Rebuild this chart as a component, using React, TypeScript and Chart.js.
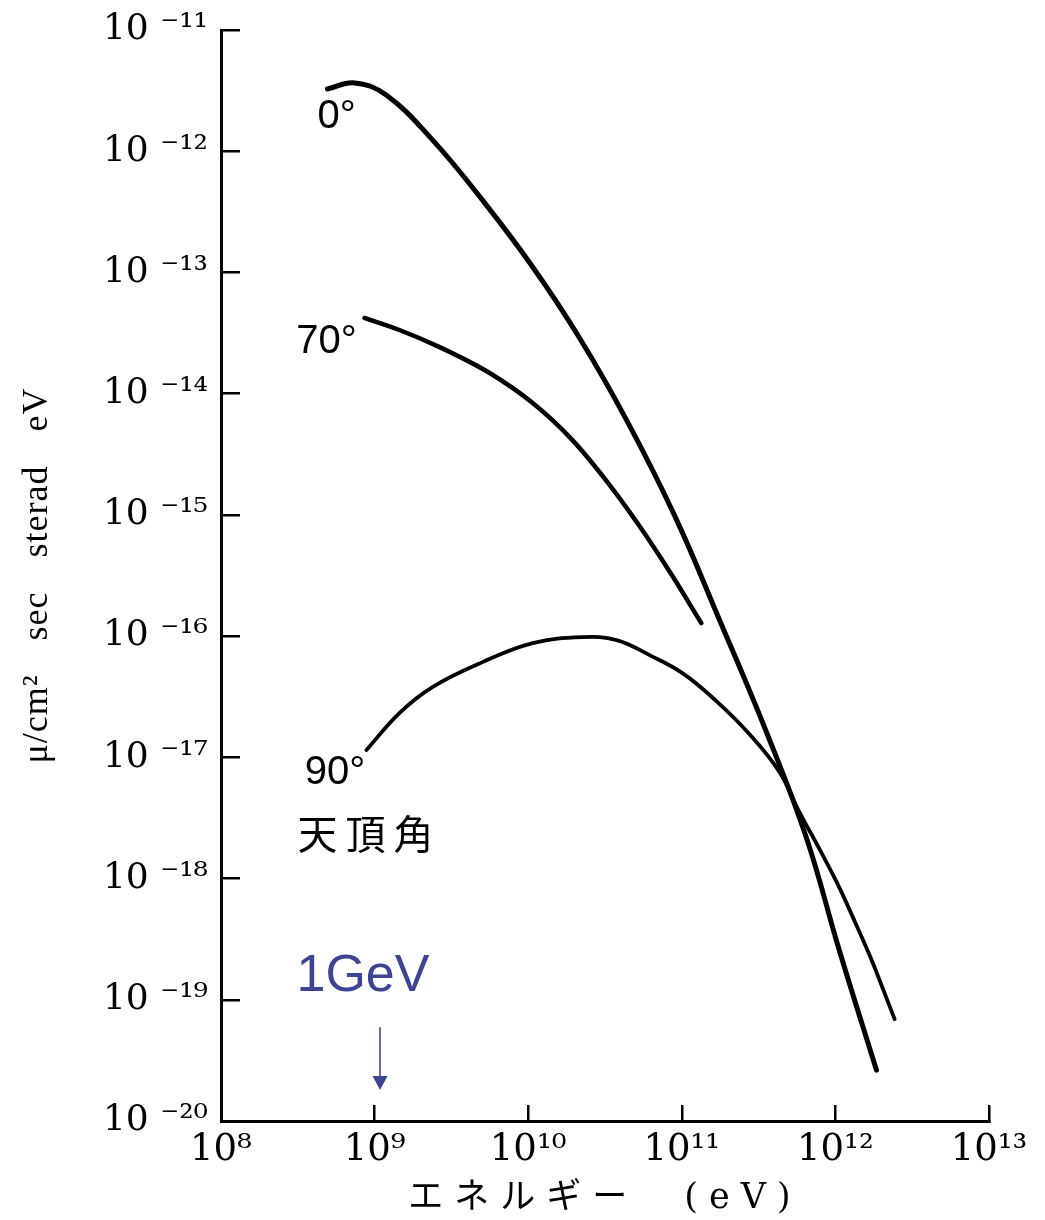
import React, { useEffect, useRef } from "react";
import { Chart, registerables } from "chart.js";

Chart.register(...registerables);

// ---- data (energy in eV, flux in μ/cm² sec sterad eV) ----
const seriesNames = ["0°", "70°", "90°"];

const energy0 = [4.93e8, 7.4e8, 1.19e9, 2.38e9, 5.04e9, 1.07e10, 2.16e10, 4.37e10, 8.95e10, 1.76e11, 3.56e11, 6.49e11, 1.06e12, 1.85e12];
const flux0 = [3.26e-12, 3.66e-12, 2.91e-12, 1.24e-12, 3.95e-13, 1.11e-13, 2.88e-14, 6.05e-15, 9.95e-16, 1.36e-16, 1.61e-17, 2.15e-18, 2.56e-19, 2.63e-20];

const energy70 = [8.59e8, 1.45e9, 2.65e9, 5.61e9, 1.07e10, 1.94e10, 3.24e10, 5.3e10, 8.69e10, 1.34e11];
const flux70 = [4.21e-14, 3.35e-14, 2.42e-14, 1.48e-14, 8.36e-15, 4.14e-15, 1.9e-15, 8.09e-16, 3.13e-16, 1.28e-16];

const energy90 = [8.85e8, 1.45e9, 2.38e9, 5.04e9, 1.07e10, 2.26e10, 3.76e10, 6.17e10, 1.01e11, 1.68e11, 2.76e11, 4.33e11, 5.83e11, 7.88e11, 1.02e12, 1.29e12, 1.67e12, 2.03e12, 2.43e12];
const flux90 = [1.15e-17, 2.32e-17, 3.8e-17, 6.1e-17, 8.75e-17, 9.81e-17, 9.27e-17, 6.97e-17, 4.95e-17, 2.91e-17, 1.55e-17, 7.55e-18, 3.53e-18, 1.75e-18, 9.33e-19, 4.9e-19, 2.33e-19, 1.25e-19, 6.92e-20];

const xTickValues = [1e8, 1e9, 1e10, 1e11, 1e12, 1e13];
const xTickLabels = ["10⁸", "10⁹", "10¹⁰", "10¹¹", "10¹²", "10¹³"];
const yTickValues = [1e-20, 1e-19, 1e-18, 1e-17, 1e-16, 1e-15, 1e-14, 1e-13, 1e-12, 1e-11];
const yTickLabels = ["10 ⁻²⁰", "10 ⁻¹⁹", "10 ⁻¹⁸", "10 ⁻¹⁷", "10 ⁻¹⁶", "10 ⁻¹⁵", "10 ⁻¹⁴", "10 ⁻¹³", "10 ⁻¹²", "10 ⁻¹¹"];

const xTitle = "エネルギー　(eV)";
const yTitle = "μ/cm² sec sterad eV";
const zenithLabel = "天頂角";
const gevLabel = "1GeV";

// annotation anchors (data coordinates)
const labelAnchorsX = [5.65e8, 4.86e8, 5.52e8];
const labelAnchorsY = [1.91e-12, 2.67e-14, 7.41e-18];
const zenithAnchor = { x: 8.73e8, y: 2.32e-18 };
const gevAnchor = { x: 8.4e8, y: 1.54e-19 };
const arrowAnchor = { x: 1.085e9, yFrom: 5.94e-20, yTo: 1.8e-20 };

const BLUE = "rgb(61,68,145)";

const toPoints = (xs: number[], ys: number[]) => xs.map((x, i) => ({ x, y: ys[i] }));

const titleSpacing: Record<string, { letter: string; word: string }> = {
  x: { letter: "11px", word: "0px" },
  y: { letter: "1px", word: "24px" },
};

const titleSpacingPlugin = {
  id: "titleSpacing",
  beforeDraw(chart: any) {
    for (const id of Object.keys(chart.scales)) {
      const s = chart.scales[id];
      if (s.__spaced) continue;
      const orig = s.drawTitle;
      const sp = titleSpacing[id];
      s.drawTitle = function () {
        const ctx = this.ctx;
        ctx.save();
        if (sp) {
          ctx.letterSpacing = sp.letter;
          ctx.wordSpacing = sp.word;
        }
        orig.call(this);
        ctx.restore();
      };
      s.__spaced = true;
    }
  },
};

const annotationPlugin = {
  id: "annotations",
  afterDatasetsDraw(chart: any) {
    const { ctx } = chart;
    const xs = chart.scales.x;
    const ys = chart.scales.y;
    ctx.save();
    ctx.textAlign = "center";
    ctx.textBaseline = "middle";
    ctx.fillStyle = "#000";
    ctx.font = "40px 'Liberation Sans', sans-serif";
    seriesNames.forEach((name, i) => {
      ctx.fillText(name, xs.getPixelForValue(labelAnchorsX[i]), ys.getPixelForValue(labelAnchorsY[i]));
    });
    ctx.font = "40px 'Noto Sans CJK JP', sans-serif";
    ctx.letterSpacing = "8px";
    ctx.fillText(zenithLabel, xs.getPixelForValue(zenithAnchor.x) + 4, ys.getPixelForValue(zenithAnchor.y));
    ctx.letterSpacing = "0px";
    ctx.fillStyle = BLUE;
    ctx.font = "52px 'Liberation Sans', sans-serif";
    ctx.fillText(gevLabel, xs.getPixelForValue(gevAnchor.x), ys.getPixelForValue(gevAnchor.y));
    // arrow
    const ax = xs.getPixelForValue(arrowAnchor.x);
    const ay1 = ys.getPixelForValue(arrowAnchor.yFrom);
    const ay2 = ys.getPixelForValue(arrowAnchor.yTo);
    ctx.strokeStyle = BLUE;
    ctx.lineWidth = 1.6;
    ctx.beginPath();
    ctx.moveTo(ax, ay1);
    ctx.lineTo(ax, ay2 - 10);
    ctx.stroke();
    ctx.beginPath();
    ctx.moveTo(ax - 7.5, ay2 - 14);
    ctx.lineTo(ax + 7.5, ay2 - 14);
    ctx.lineTo(ax, ay2);
    ctx.closePath();
    ctx.fill();
    ctx.restore();
  },
};

export default function App() {
  const canvasRef = useRef<HTMLCanvasElement | null>(null);

  useEffect(() => {
    const canvas = canvasRef.current;
    if (!canvas) return;
    const lineStyle = (w: number, monotone = false) => ({
      borderColor: "#000",
      borderWidth: w,
      pointRadius: 0,
      tension: 0.4,
      cubicInterpolationMode: monotone ? ("monotone" as const) : ("default" as const),
      borderCapStyle: "round" as const,
      borderJoinStyle: "round" as const,
      fill: false,
    });
    const chart = new Chart(canvas, {
      type: "line",
      data: {
        datasets: [
          { label: seriesNames[0], data: toPoints(energy0, flux0), ...lineStyle(5) },
          { label: seriesNames[1], data: toPoints(energy70, flux70), ...lineStyle(4.5, true) },
          { label: seriesNames[2], data: toPoints(energy90, flux90), ...lineStyle(3.8) },
        ],
      },
      plugins: [titleSpacingPlugin, annotationPlugin],
      options: {
        responsive: false,
        animation: false,
        devicePixelRatio: 1,
        layout: { padding: { left: 0, right: 56, top: 30, bottom: 0 } },
        plugins: { legend: { display: false }, tooltip: { enabled: false } },
        scales: {
          x: {
            type: "logarithmic",
            min: 1e8,
            max: 1e13,
            afterBuildTicks: (scale: any) => {
              scale.ticks = xTickValues.map((v) => ({ value: v }));
            },
            afterFit: (scale: any) => {
              scale.height = 99;
              scale.paddingLeft = 0;
              scale.paddingRight = 0;
            },
            ticks: {
              autoSkip: false,
              maxRotation: 0,
              minRotation: 0,
              padding: 23,
              color: "#000",
              font: { family: "'DejaVu Serif', serif", size: 37 },
              callback: (_v: any, i: number) => xTickLabels[i],
            },
            grid: {
              display: true,
              drawOnChartArea: false,
              drawTicks: true,
              tickLength: -16,
              color: "#000",
              lineWidth: 2.5,
            },
            border: { display: true, color: "#000", width: 3 },
            title: {
              display: true,
              text: xTitle,
              color: "#000",
              font: { family: "'DejaVu Serif', 'Noto Sans CJK JP', serif", size: 35 },
              padding: { top: 0, bottom: 0 },
            },
          },
          y: {
            type: "logarithmic",
            min: 1e-20,
            max: 1e-11,
            afterBuildTicks: (scale: any) => {
              scale.ticks = yTickValues.map((v) => ({ value: v }));
            },
            afterFit: (scale: any) => {
              scale.width = 221;
              scale.paddingTop = 0;
              scale.paddingBottom = 0;
            },
            ticks: {
              autoSkip: false,
              padding: 32,
              color: "#000",
              font: { family: "'DejaVu Serif', serif", size: 36 },
              callback: (_v: any, i: number) => yTickLabels[i],
            },
            grid: {
              display: true,
              drawOnChartArea: false,
              drawTicks: true,
              tickLength: -19,
              color: "#000",
              lineWidth: 2.5,
            },
            border: { display: true, color: "#000", width: 3 },
            title: {
              display: true,
              text: yTitle,
              color: "#000",
              font: { family: "'Liberation Serif', serif", size: 36 },
              padding: { top: 16, bottom: 0 },
            },
          },
        },
      },
    } as any);
    return () => chart.destroy();
  }, []);

  return (
    <div style={{ position: "absolute", left: 0, top: 0, width: 1045, height: 1220, background: "#fff" }}>
      <canvas ref={canvasRef} width={1045} height={1220} style={{ display: "block" }} />
    </div>
  );
}
